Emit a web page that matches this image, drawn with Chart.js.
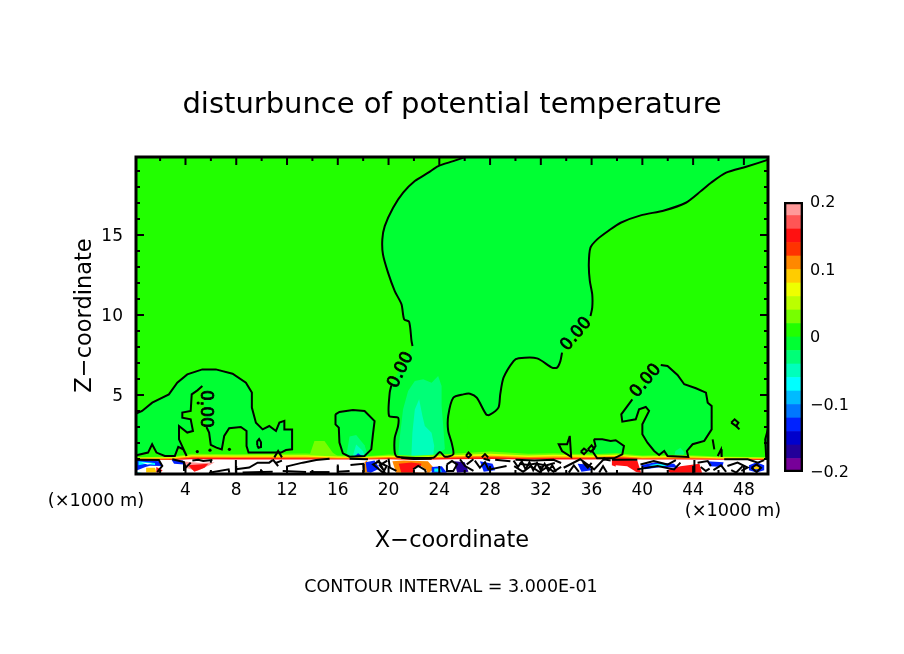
<!DOCTYPE html>
<html>
<head>
<meta charset="utf-8">
<title>disturbunce of potential temperature</title>
<script src="https://cdn.jsdelivr.net/npm/chart.js@4/dist/chart.umd.min.js"></script>
<style>
html,body{margin:0;padding:0;background:#fff;}
#main{position:absolute;left:0;top:0;width:904px;height:654px;}
#bar{position:absolute;left:770px;top:190px;width:134px;height:295px;}
</style>
</head>
<body>
<canvas id="main" width="904" height="654"></canvas>
<canvas id="bar" width="134" height="295"></canvas>
<script>
// axis ticks
const xTickLabels = [4,8,12,16,20,24,28,32,36,40,44,48];
const xMinorTicks = [2,6,10,14,18,22,26,30,34,38,42,46];
const yTickLabels = [5,10,15];
const yMinorTicks = [1,2,3,4,6,7,8,9,11,12,13,14,16,17,18,19];
const xMin = 0.1;
const xMax = 49.9;
const yMin = 0.06;
const yMax = 19.88;

// colour bar
const barLevels = [-0.2,-0.18,-0.16,-0.14,-0.12,-0.1,-0.08,-0.06,-0.04,-0.02,0,0.02,0.04,0.06,0.08,0.1,0.12,0.14,0.16,0.18,0.2];
const barColors = ['#770099','#220099','#0000cc','#0022ff','#0077ff','#00bbff','#00ffff','#00ffbb','#00ff77','#00ff33','#22ff00','#77ff00','#bbff00','#eeff00','#ffcc00','#ff8800','#ff3300','#ff1111','#ff5555','#ff9999'];
const barTicks = [-0.2,-0.1,0,0.1,0.2];

// contour of 0, null = gap where the 0.00 label sits
const moundContour = [[0,3.79],[0.58,4.0],[1.38,4.52],[2.69,5.04],[3.35,5.77],[4.14,6.29],[5.33,6.6],[6.39,6.6],[7.71,6.33],[8.76,5.77],[9.23,5.15],[9.23,4.21],[9.55,3.27],[10.08,2.85],[10.6,3.06],[11.13,2.75],[11.4,3.27],[11.79,3.38],[11.79,2.85],[12.4,2.85],[12.4,1.6],[11.92,1.56],[11.53,1.4],[10.87,1.4],[10.08,1.4],[8.97,1.4],[8.81,1.81],[8.81,2.75],[8.36,3.0],[7.44,2.92],[7.05,2.44],[6.86,1.6],[6.44,1.71],[5.99,1.88],[5.86,2.65],[5.65,3.0],null,[5.33,5.56],[4.94,5.29],[4.49,5.04],[4.41,4.0],[3.75,3.9],[3.75,3.58],[4.41,3.48],[4.59,2.75],[4.14,2.65],[3.49,3.06],[3.49,2.23],[4.09,1.19],[3.82,1.6],[3.43,1.75],[3.16,1.19],[2.37,1.19],[1.71,1.4],[1.37,1.92],[1.05,1.4],[0.13,1.23],[0,1.2]];
const plumeContour = [[26.03,19.88],[25.1,19.62],[23.92,19.31],[23.13,18.9],[22.07,18.38],[21.15,17.65],[20.36,16.71],[19.7,15.56],[19.51,14.73],[19.56,13.79],[19.96,12.65],[20.49,11.5],[21.02,10.67],[21.23,9.73],[21.62,9.58],[21.81,8.38],[21.89,8.06],null,[20.22,5.6],[20.09,5.14],[20.04,3.69],[20.75,3.58],[20.75,3.06],[20.49,2.33],[20.49,1.39],[20.67,1.14],[23.52,1.08],[24.05,1.44],[24.44,1.14],[25.1,1.29],[24.97,2.02],[24.7,2.75],[24.7,3.69],[25.1,4.83],[25.89,5.04],[26.42,5.08],[26.95,4.83],[27.69,3.79],[27.95,3.75],[28.66,4.21],[28.8,5.04],[29.06,6.08],[29.85,7.12],[30.25,7.29],[31.7,7.29],[32.88,6.71],[33.28,6.71],[33.54,7.12],[33.67,7.65],null,[35.91,9.94],[36.05,10.46],[36.05,11.29],[35.86,12.13],[35.78,13.17],[35.91,14.21],[36.44,14.73],[37.37,15.29],[38.29,15.77],[39.87,16.23],[41.72,16.54],[43.43,17.02],[44.62,17.75],[45.41,18.27],[46.6,18.9],[48.18,19.27],[50,19.73]];
const plumeTopCorner = [[50,19.88]];
const blobContour = [[15.82,3.79],[16.13,3.94],[17.19,4.06],[18.11,4.0],[18.9,3.37],[18.77,2.54],[18.64,1.6],[18.11,1.19],[16.93,1.14],[16.4,1.35],[16.13,2.02],[16.08,2.96],[15.82,3.16],[15.82,3.79]];
const eastContour = [[41.45,6.88],[41.98,6.81],[42.77,6.25],[43.3,5.67],[44.22,5.42],[45.01,5.15],[45.15,4.52],[45.46,4.31],[45.46,2.85],[44.88,2.13],[43.96,1.92],[43.51,1.5],[43.62,1.13],[41.98,1.19],[41.72,1.5],[41.32,1.25],[40.93,1.5],[40.4,2.02],[40.0,2.54],[40.0,3.17],[40.53,4.0],[40.27,4.25],[39.74,4.1],[39.48,3.48],[38.42,3.33],[38.34,3.79],[39.21,4.73]];
const hillContour = [[36.18,2.23],[36.84,2.23],[37.5,2.13],[37.9,2.17],[38.55,1.81],[38.42,1.29],[37.76,1.04],[36.44,1.04],[36.05,1.5],[36.31,1.81],[36.18,2.23]];
const spikeContour = [[34.28,2.44],[34.07,1.92],[33.41,1.92],[33.67,1.5],[34.39,1.13],[34.28,2.44]];
const edgeContour = [[50,2.95],[49.89,2.85],[49.68,2.23],[49.76,1.08],[50,1.08]];
const smallContours = [
  [[9.65,1.85],[9.65,2.1],[9.8,2.25],[9.95,2.05],[9.95,1.75],[9.75,1.7],[9.65,1.85]],
  [[47.0,3.27],[47.27,3.48],[47.57,3.27],[47.39,3.06],[47.0,3.27]],
  [[47.39,3.06],[47.65,2.85]],
  [[45.54,2.23],[45.67,1.6]],
  [[45.94,1.19],[46.2,1.6],[46.25,1.13]],
  [[26.1,1.2],[26.3,1.4],[26.5,1.25],[26.3,1.1],[26.1,1.2]],
  [[27.35,1.1],[27.6,1.3],[27.85,1.1]],
  [[35.15,1.45],[35.4,1.65],[35.65,1.5],[35.4,1.3],[35.15,1.45]],
  [[35.7,1.6],[36.0,1.85],[36.2,1.65],[35.95,1.45],[35.7,1.6]],
  [[11.0,1.1],[11.3,1.5],[11.6,1.1]]
];
const contourDots = [[5.93,1.55],[7.46,1.6],[4.93,1.46],[5.0,4.5],[37.0,1.0]];

// 0.00 labels on the contour
const labelX = [5.54,20.97,34.8,40.27];
const labelY = [4.13,6.56,8.81,5.88];
const labelAngle = [90,-64,-50,-50];

// shaded patches of the upper field
const plotRect = [[0,0],[50,0],[50,19.88],[0,19.88]];
const limeHill = [[13.76,1.19],[14.16,2.12],[14.95,2.12],[15.61,1.39],[16.0,1.19]];
const blobInner = [[16.67,1.2],[16.93,2.4],[17.45,2.5],[18.11,1.85],[18.37,1.2]];
const blobCore = [[17.19,1.2],[17.45,1.9],[17.98,1.5],[18.11,1.2]];
const blobBlue = [[17.3,1.15],[17.6,1.35],[17.98,1.15]];
const plumeOuter = [[20.75,1.14],[20.88,2.33],[21.14,4.1],[21.54,5.25],[22.07,5.87],[22.73,5.98],[23.39,5.77],[23.91,6.19],[24.18,5.56],[24.18,4.31],[24.31,3.06],[24.44,1.6],[24.05,1.44],[23.52,1.19]];
const plumeCore = [[21.8,1.19],[21.88,2.64],[22.07,4.1],[22.41,4.73],[22.67,3.69],[22.86,3.06],[23.39,2.64],[23.6,1.81],[23.52,1.23]];
const warmSpot = [[25.58,3.06],[25.89,3.52],[26.29,3.37],[26.21,2.75],[25.76,2.54]];
const coolSpot = [[42.5,1.1],[42.6,1.5],[43.0,1.7],[43.3,1.4],[43.2,1.1]];

// fringe along the top of the noisy bottom layer
const limeEdge = [[0,1.1],[3,1.15],[4.5,1.32],[8,1.3],[13.5,1.34],[16,1.22],[18,1.16],[20,1.28],[22,1.2],[25,1.32],[28,1.46],[31,1.32],[33,1.36],[36,1.3],[38,1.36],[40,1.22],[43,1.26],[46,1.16],[50,1.1],[50,0],[0,0]];
const yellowEdge = [[0,1.07],[3,1.1],[4.5,1.24],[8,1.22],[13.5,1.24],[16,1.15],[18,1.12],[20,1.2],[22,1.13],[25,1.24],[28,1.32],[31,1.22],[33,1.26],[36,1.22],[38,1.27],[40,1.15],[43,1.18],[46,1.11],[50,1.07],[50,0],[0,0]];
const orangeEdge = [[0,1.03],[3,1.04],[4.5,1.15],[8,1.14],[13.5,1.14],[16,1.08],[18,1.07],[20,1.12],[22,1.07],[25,1.15],[28,1.2],[31,1.12],[33,1.15],[36,1.13],[38,1.18],[40,1.08],[43,1.1],[46,1.05],[50,1.03],[50,0],[0,0]];
const redEdge = [[0,0.99],[3,0.99],[4.5,1.08],[8,1.06],[13.5,1.05],[16,1.02],[18,1.02],[20,1.05],[22,1.0],[25,1.07],[28,1.1],[31,1.04],[33,1.06],[36,1.05],[38,1.1],[40,1.02],[43,1.03],[46,1.0],[50,0.98],[50,0],[0,0]];
const whiteEdge = [[0,0.95],[3,0.94],[4.5,0.98],[8,0.97],[13.5,0.96],[16,0.97],[18,0.97],[20,0.98],[22,0.93],[25,0.98],[28,1.0],[31,0.97],[33,0.97],[36,0.97],[38,1.0],[40,0.96],[43,0.97],[46,0.95],[50,0.93],[50,0],[0,0]];

// coloured cells inside the bottom layer
const purplePatches = [[[25.2,0.85],[26,0.8],[26.3,0.2],[25.4,0.14]]];
const bluePatches = [
  [[0.06,0.98],[1.9,0.85],[2.17,0.56],[1.2,0.58],[0.85,0.5],[0.06,0.25]],
  [[2.9,0.95],[3.8,0.9],[3.9,0.65],[3.1,0.7]],
  [[18.2,0.8],[18.9,0.9],[19.3,0.4],[18.6,0.14],[18.3,0.2]],
  [[23.4,0.5],[24.2,0.55],[24.6,0.14],[23.4,0.14]],
  [[27.2,0.85],[28.2,0.7],[28.4,0.3],[27.5,0.2]],
  [[34.9,0.7],[35.7,0.65],[36.0,0.3],[35.2,0.2]],
  [[39.9,0.6],[41,0.8],[42.5,0.7],[42.8,0.45],[41.5,0.5],[40.2,0.35]],
  [[45.1,0.85],[46.4,0.8],[46.3,0.5],[45.3,0.55]],
  [[48.4,0.6],[49,0.8],[49.6,0.6],[49.6,0.3],[49,0.15],[48.4,0.3]]
];
const cyanPatches = [
  [[0.3,0.85],[1.6,0.75],[1.6,0.62],[0.8,0.68],[0.3,0.6]],
  [[0.06,0.2],[0.6,0.14],[0.06,0.14]],
  [[23.6,0.4],[24.1,0.4],[24.2,0.2],[23.6,0.2]],
  [[40.5,0.6],[41.2,0.7],[42.1,0.62],[41.4,0.52]]
];
const whitePatches = [
  [[0.5,0.78],[1.4,0.72],[1.0,0.65]],
  [[21.9,0.15],[22.1,0.5],[22.6,0.55],[23,0.3],[23,0.15]],
  [[37.9,0.6],[38.8,0.55],[39.5,0.2],[37.9,0.14]]
];
const yellowPatches = [
  [[0.9,0.45],[1.6,0.45],[1.7,0.15],[0.9,0.15]],
  [[48.8,0.55],[49.2,0.55],[49.2,0.35],[48.8,0.35]]
];
const orangePatches = [
  [[18.1,0.8],[18.3,0.9],[18.5,0.15],[18.1,0.15]],
  [[20.3,0.85],[21.2,0.9],[23.1,0.85],[23.6,0.4],[23.2,0.14],[20.6,0.14]],
  [[42.8,0.4],[43.6,0.5],[44.3,0.2],[43,0.15]]
];
const redPatches = [
  [[1.7,0.5],[2.2,0.3],[2.0,0.15],[1.7,0.15]],
  [[4.2,0.6],[4.7,0.2],[5.5,0.45],[5.8,0.7]],
  [[20.8,0.7],[21.8,0.78],[22.6,0.7],[22.3,0.15],[21,0.15]],
  [[37.6,0.95],[39.6,0.9],[39.9,0.14],[38.7,0.3],[37.6,0.6]],
  [[41.9,0.3],[43,0.55],[44.5,0.7],[44.7,0.14],[42.2,0.14]]
];
const pinkPatches = [[[3.7,0.85],[4.0,0.45],[4.9,0.25],[5.9,0.6],[6.3,0.8],[5.2,0.75]]];

// black contours of the bottom layer
const bandContours = [
  [[0.06,0.95],[1.9,0.93],[2.17,0.56],[1.77,0.18]],
  [[2.96,0.98],[3.88,0.81],[4.01,0.46],[4.41,0.77]],
  [[3.88,0.25],[3.88,0.81]],
  [[4.54,0.9],[5.0,0.95],[5.4,0.88],[6.12,0.94]],
  [[5.86,0.14],[7.4,0.35],[7.45,0.14]],
  [[6.0,0.94],[6.0,0.76]],
  [[7.97,0.93],[7.97,0.14]],
  [[7.97,0.35],[9.02,0.46],[9.68,0.77],[10.6,0.77],[10.87,0.93]],
  [[8.5,0.15],[10.87,0.2]],
  [[9.95,0.35],[9.95,0.15]],
  [[10.87,0.98],[11.3,0.55],[11.1,0.75],[11.6,0.9]],
  [[11.92,0.52],[13.24,0.77],[14.3,0.93],[15.35,1.02]],
  [[11.66,0.25],[13.5,0.18]],
  [[13.8,0.18],[15.35,0.18]],
  [[16.0,0.66],[16.0,0.2],[16.93,0.25]],
  [[16.93,1.02],[18.38,0.98]],
  [[17.0,0.62],[18.0,0.7],[18.05,0.15]],
  [[19.04,0.87],[19.85,0.56],[19.57,0.14],[18.78,0.66],[19.3,0.87]],
  [[19.2,0.95],[19.6,0.3],[19.3,0.6],[19.9,0.9]],
  [[20.0,1.02],[20.1,0.46],[20.62,0.25]],
  [[21.0,1.08],[22.0,1.0],[23.4,1.02]],
  [[21.94,0.35],[22.34,0.56],[22.87,0.31],[22.95,0.14]],
  [[24.6,0.66],[25.0,0.87],[25.4,0.66],[25.1,0.25],[24.6,0.25],[24.6,0.66]],
  [[25.63,0.98],[26.03,0.56],[26.69,0.25]],
  [[26.16,0.66],[26.69,0.98]],
  [[26.8,0.9],[27.2,0.45],[27.6,0.8],[27.9,0.3]],
  [[27.48,1.02],[28.0,0.9],[27.74,0.98]],
  [[28.0,0.35],[29.3,0.56]],
  [[28.4,0.95],[29.6,0.85]],
  [[29.85,0.9],[30.2,0.5],[30.5,0.85],[30.8,0.35],[31.1,0.8],[31.4,0.3],[31.7,0.75],[32.0,0.3],[32.3,0.7],[32.6,0.25],[32.9,0.6],[33.2,0.2]],
  [[29.9,0.55],[30.6,0.2],[31.2,0.55],[31.9,0.18],[32.5,0.5],[33.0,0.2],[33.6,0.5]],
  [[30.0,0.95],[31.5,0.9],[33.0,0.95],[33.6,0.75]],
  [[30.3,0.7],[31.0,0.62],[31.6,0.72],[32.4,0.6],[33.1,0.75]],
  [[33.8,0.45],[35.1,0.98],[36.2,0.35],[36.95,0.98],[37.5,0.9]],
  [[34.2,0.15],[34.6,0.6],[35.0,0.2]],
  [[35.3,0.8],[35.7,0.45],[36.0,0.75]],
  [[36.6,0.15],[36.9,0.55],[37.2,0.15]],
  [[37.6,0.95],[39.6,0.95]],
  [[39.85,0.65],[40.9,0.87],[41.98,0.65],[42.64,0.93]],
  [[39.6,0.35],[41.2,0.56],[42.5,0.35],[43.0,0.77]],
  [[44.1,0.93],[44.1,0.14]],
  [[44.35,0.77],[45.15,0.87],[45.4,0.56]],
  [[44.6,0.5],[45.0,0.25],[45.3,0.4]],
  [[46.45,0.98],[48.3,0.98],[49.1,0.77],[49.6,0.93]],
  [[46.7,0.56],[47.5,0.77],[48.3,0.46],[47.8,0.25]],
  [[47.0,0.3],[47.4,0.15],[47.9,0.55]],
  [[48.6,0.45],[49.0,0.66],[49.35,0.45],[49.0,0.18],[48.6,0.45]],
  [[45.6,0.3],[46.2,0.6],[46.6,0.2]]
];

const c = {bg:'#22ff00',green:'#00ff33',lime:'#77ff00',mint:'#00ff77',teal:'#00ffbb',blue:'#0022ff',yellow:'#ffcc00',orange:'#ff8800',red:'#ff1111',pink:'#ff9999',purple:'#220099',cyan:'#00ffff',white:'#ffffff',black:'#000000'};

function toPoints(list){
  return list.map(p => p ? {x:p[0],y:p[1]} : {x:NaN,y:NaN});
}
function area(list,color,tension){
  return {data:toPoints(list.filter(p => p)),showLine:true,pointRadius:0,borderWidth:0,borderColor:'transparent',backgroundColor:color,fill:'shape',tension:tension || 0};
}
function contour(list,tension){
  return {data:toPoints(list),showLine:true,pointRadius:0,borderWidth:2,borderColor:c.black,fill:false,tension:tension || 0,spanGaps:false};
}
function areas(lists,color){
  return lists.map(l => area(l,color));
}

// bottom layer first, order is set below so later entries draw on top
const layers = [
  area(plotRect,c.bg),
  area(limeHill,c.lime),
  area(moundContour,c.green),
  area(plumeContour.concat(plumeTopCorner),c.green,0.25),
  area(plumeOuter,c.mint),
  area(plumeCore,c.teal),
  area(warmSpot,c.bg),
  area(blobContour,c.green),
  area(blobInner,c.mint),
  area(blobCore,c.teal),
  area(blobBlue,c.blue),
  area(eastContour,c.green),
  area(coolSpot,c.mint),
  area(hillContour,c.green),
  area(edgeContour,c.green),
  area(limeEdge,c.lime),
  area(yellowEdge,'#eeff00'),
  area(orangeEdge,c.orange),
  area(redEdge,c.red),
  area(whiteEdge,c.white),
  ...areas(pinkPatches,c.pink),
  ...areas(orangePatches,c.orange),
  ...areas(redPatches,c.red),
  ...areas(purplePatches,c.purple),
  ...areas(bluePatches,c.blue),
  ...areas(cyanPatches,c.cyan),
  ...areas(yellowPatches,c.yellow),
  ...areas(whitePatches,c.white),
  contour(moundContour),
  contour(plumeContour,0.25),
  contour(blobContour),
  contour(eastContour),
  contour(hillContour),
  contour(spikeContour),
  contour(edgeContour),
  ...smallContours.map(l => contour(l)),
  ...bandContours.map(l => contour(l)),
  {data:toPoints(contourDots),showLine:false,pointRadius:1.6,pointBackgroundColor:c.black,pointBorderWidth:0}
];
layers.forEach((d,i) => { d.order = layers.length - i; });

const frame = {
  id:'frame',
  afterDatasetsDraw(chart){
    const {ctx,chartArea:a,scales:{x,y}} = chart;
    ctx.save();
    ctx.strokeStyle = '#000';
    ctx.lineWidth = 2;
    ctx.beginPath();
    const xTick = (v,len) => {
      const p = x.getPixelForValue(v);
      ctx.moveTo(p,a.bottom); ctx.lineTo(p,a.bottom-len);
      ctx.moveTo(p,a.top); ctx.lineTo(p,a.top+len);
    };
    const yTick = (v,len) => {
      const p = y.getPixelForValue(v);
      ctx.moveTo(a.left,p); ctx.lineTo(a.left+len,p);
      ctx.moveTo(a.right,p); ctx.lineTo(a.right-len,p);
    };
    xTickLabels.forEach(v => xTick(v,8));
    xMinorTicks.forEach(v => xTick(v,4));
    yTickLabels.forEach(v => yTick(v,8));
    yMinorTicks.forEach(v => yTick(v,4));
    ctx.stroke();
    ctx.lineWidth = 3;
    ctx.strokeRect(a.left,a.top,a.right-a.left,a.bottom-a.top);
    // 0.00 contour labels
    ctx.fillStyle = '#000';
    ctx.lineWidth = 0.8;
    ctx.font = '17px "DejaVu Sans"';
    ctx.textAlign = 'center';
    ctx.textBaseline = 'middle';
    labelX.forEach((v,i) => {
      ctx.save();
      ctx.translate(x.getPixelForValue(v),y.getPixelForValue(labelY[i]));
      ctx.rotate(labelAngle[i]*Math.PI/180);
      ctx.fillText('0.00',0,0);
      ctx.strokeText('0.00',0,0);
      ctx.restore();
    });
    // notes
    ctx.textBaseline = 'middle';
    ctx.font = '17.7px "DejaVu Sans"';
    ctx.fillText('(×1000 m)',96,501);
    ctx.fillText('(×1000 m)',733,511);
    ctx.font = '17.5px "DejaVu Sans"';
    ctx.fillText('CONTOUR INTERVAL = 3.000E-01',451,587);
    ctx.restore();
  }
};

new Chart(document.getElementById('main'),{
  type:'scatter',
  data:{datasets:layers},
  options:{
    responsive:false,
    animation:false,
    layout:{padding:{left:0,right:0,top:0,bottom:99}},
    plugins:{
      legend:{display:false},
      tooltip:{enabled:false},
      title:{
        display:true,
        text:'disturbunce of potential temperature',
        color:'#000',
        font:{family:'"DejaVu Sans"',size:29,weight:'normal',lineHeight:1.2},
        padding:{top:87.6,bottom:34.6}
      }
    },
    scales:{
      x:{
        type:'linear',min:xMin,max:xMax,
        afterFit(s){ s.height = 81; },
        afterBuildTicks(s){ s.ticks = xTickLabels.map(v => ({value:v})); },
        grid:{display:false,drawTicks:false},
        border:{display:false},
        ticks:{autoSkip:false,maxRotation:0,padding:6,color:'#000',font:{family:'"DejaVu Sans"',size:17}},
        title:{display:true,text:'X\u2212coordinate',color:'#000',font:{family:'"DejaVu Sans"',size:22.5},padding:{top:0,bottom:0}}
      },
      y:{
        type:'linear',min:yMin,max:yMax,
        afterFit(s){ s.width = 136; },
        afterBuildTicks(s){ s.ticks = yTickLabels.map(v => ({value:v})); },
        grid:{display:false,drawTicks:false},
        border:{display:false},
        ticks:{autoSkip:false,padding:13,labelOffset:1.5,color:'#000',font:{family:'"DejaVu Sans"',size:17}},
        title:{display:true,text:'Z\u2212coordinate',color:'#000',font:{family:'"DejaVu Sans"',size:22.5},padding:{top:71.5,bottom:0}}
      },
      // empty right hand scale, keeps the plot clear of the colour bar
      side:{
        position:'right',display:true,
        afterFit(s){ s.width = 136; },
        grid:{display:false,drawTicks:false},
        border:{display:false},
        ticks:{display:false}
      }
    }
  },
  plugins:[frame]
});

// colour bar, one floating bar per level plus the outline
const barSets = barColors.map((col,i) => ({
  data:[[barLevels[i],barLevels[i+1]]],backgroundColor:col,borderWidth:0,order:2
}));
barSets.push({data:[[barLevels[0],barLevels[barLevels.length-1]]],backgroundColor:'transparent',borderColor:'#000',borderWidth:2,borderSkipped:false,order:1});

new Chart(document.getElementById('bar'),{
  type:'bar',
  data:{labels:[''],datasets:barSets},
  options:{
    responsive:false,
    animation:false,
    layout:{padding:{left:14,right:0,top:12,bottom:13}},
    datasets:{bar:{grouped:false,barPercentage:1,categoryPercentage:1}},
    plugins:{legend:{display:false},tooltip:{enabled:false}},
    scales:{
      x:{display:false},
      y:{
        position:'right',min:-0.2,max:0.2,
        afterFit(s){ s.width = 101; s.paddingTop = 0; s.paddingBottom = 0; },
        grid:{display:false,drawTicks:false},
        border:{display:false},
        afterBuildTicks(s){ s.ticks = barTicks.map(v => ({value:v})); },
        ticks:{padding:7,labelOffset:1,color:'#000',font:{family:'"DejaVu Sans"',size:16},
          callback:v => v === 0 ? '0' : String(v).replace('-','\u2212')}
      }
    }
  }
});
</script>
</body>
</html>
